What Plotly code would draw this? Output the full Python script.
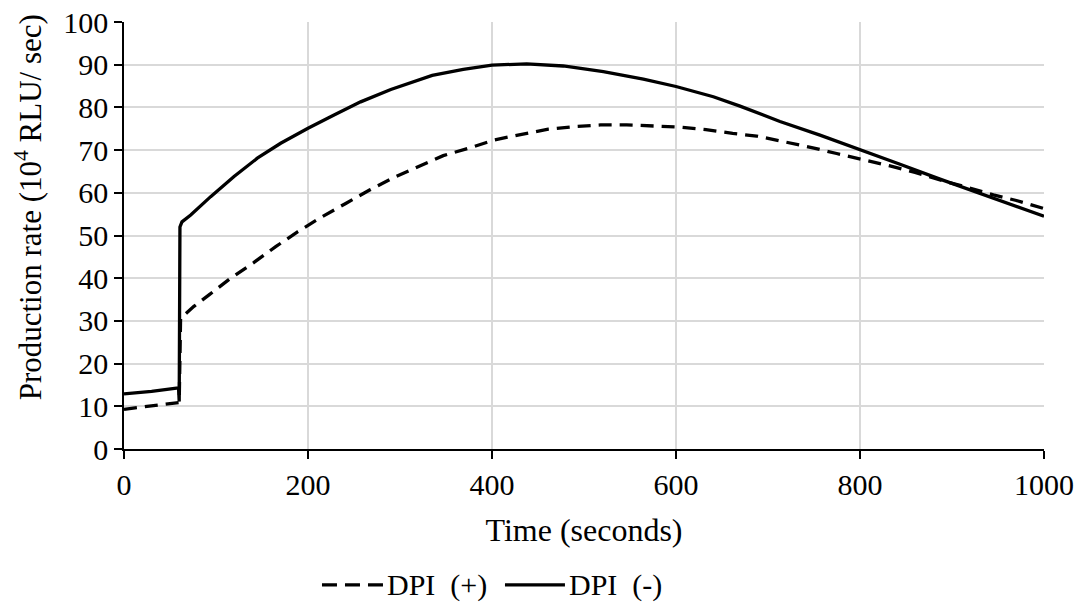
import plotly.graph_objects as go

# DPI (+) dashed series
time_plus = [0, 25, 46, 60, 61.5, 76, 92.4, 116, 140.6, 164.9, 189, 214.5, 241, 267.4,
             293.5, 320.7, 347, 375.4, 403, 432.3, 461.2, 489, 518, 546.4, 576, 604,
             632.6, 661.6, 687.7, 718.5, 747.5, 774.6, 803.6, 832.6, 859.8, 887, 916,
             945, 970, 1000]
rate_plus = [9.3, 9.9, 10.5, 10.9, 30.6, 33.4, 36.1, 40.0, 43.6, 47.4, 50.9, 54.3, 57.5, 60.7,
             63.6, 66.3, 68.7, 70.5, 72.4, 73.7, 74.9, 75.5, 75.9, 75.9, 75.7, 75.4,
             74.8, 73.9, 73.3, 72.0, 70.6, 69.2, 67.8, 66.3, 64.8, 63.0, 61.3,
             59.5, 58.2, 56.3]

# DPI (-) solid series
time_minus = [0, 30, 59.3, 60, 60.8, 63, 72.5, 94.2, 119.6, 144.9, 170.3, 200, 228.3, 257.2,
              290, 335, 368.8, 400, 437.7, 477.5, 521, 564.5, 600, 640.6, 669.6, 713,
              756.5, 800, 843.5, 887, 930.4, 1000]
rate_minus = [12.9, 13.5, 14.3, 11.1, 52.0, 53.2, 54.8, 59.1, 63.8, 68.1, 71.6, 75.1, 78.2, 81.3,
              84.2, 87.5, 88.9, 89.9, 90.2, 89.7, 88.4, 86.6, 84.9, 82.5, 80.3, 76.7,
              73.5, 70.2, 66.7, 63.2, 59.9, 54.5]

series_names = ["DPI\u00a0\u00a0(+)", "DPI\u00a0\u00a0(-)"]
x_ticks = [0, 200, 400, 600, 800, 1000]
y_ticks = [0, 10, 20, 30, 40, 50, 60, 70, 80, 90, 100]

FONT = "Liberation Serif"
FS = 30
DASH = "15px,8px"

fig = go.Figure()
fig.add_trace(go.Scatter(
    x=time_plus, y=rate_plus, mode="lines", name=series_names[0], showlegend=False,
    line=dict(color="black", width=3.3, dash="13px,8px"),
))
fig.add_trace(go.Scatter(
    x=time_minus, y=rate_minus, mode="lines", name=series_names[1], showlegend=False,
    line=dict(color="black", width=3.3),
))

# Legend (drawn below the x-axis title, Excel style with long samples)
LEG_Y = -0.318
legend_items = [
    dict(x0=0.2152, x1=0.2815, tx=0.2837, dash=DASH, name=series_names[0]),
    dict(x0=0.4141, x1=0.4793, tx=0.4815, dash="solid", name=series_names[1]),
]
shapes = []
annotations = []
for it in legend_items:
    shapes.append(dict(type="line", xref="paper", yref="paper",
                       x0=it["x0"], x1=it["x1"], y0=LEG_Y, y1=LEG_Y,
                       line=dict(color="black", width=3.3, dash=it["dash"])))
    annotations.append(dict(text=it["name"], xref="paper", yref="paper",
                            x=it["tx"], y=LEG_Y, xanchor="left", yanchor="middle",
                            showarrow=False, font=dict(family=FONT, size=FS, color="black")))

annotations.append(dict(
    text="Production rate (10<sup>4</sup> RLU/ sec)",
    xref="paper", yref="paper", x=-0.1043, y=0.566,
    xanchor="center", yanchor="middle", textangle=-90, showarrow=False,
    font=dict(family=FONT, size=31, color="black"),
))

fig.update_layout(
    width=1085, height=607,
    margin=dict(l=124, r=41, t=22, b=158, autoexpand=False),
    paper_bgcolor="white", plot_bgcolor="white",
    font=dict(family=FONT, size=FS, color="black"),
    showlegend=False,
    shapes=shapes,
    annotations=annotations,
)
fig.update_xaxes(
    range=[0, 1000], tickvals=x_ticks, ticktext=[str(v) for v in x_ticks],
    tickfont=dict(family=FONT, size=FS, color="black"), automargin=False,
    showgrid=True, gridcolor="#d9d9d9", gridwidth=1.5,
    showline=True, linecolor="black", linewidth=1.5,
    ticks="outside", ticklen=8, tickwidth=1.5, tickcolor="black",
    zeroline=False,
    title=dict(text="Time (seconds)", font=dict(family=FONT, size=32, color="black"), standoff=19),
)
fig.update_yaxes(
    range=[0, 100], tickvals=y_ticks, ticktext=[str(v) for v in y_ticks],
    tickfont=dict(family=FONT, size=FS, color="black"), automargin=False,
    showgrid=True, gridcolor="#d9d9d9", gridwidth=1.5,
    showline=True, linecolor="black", linewidth=1.5,
    ticks="outside", ticklen=8, tickwidth=1.5, tickcolor="black",
    zeroline=False,
)

fig.write_html("out.html")
